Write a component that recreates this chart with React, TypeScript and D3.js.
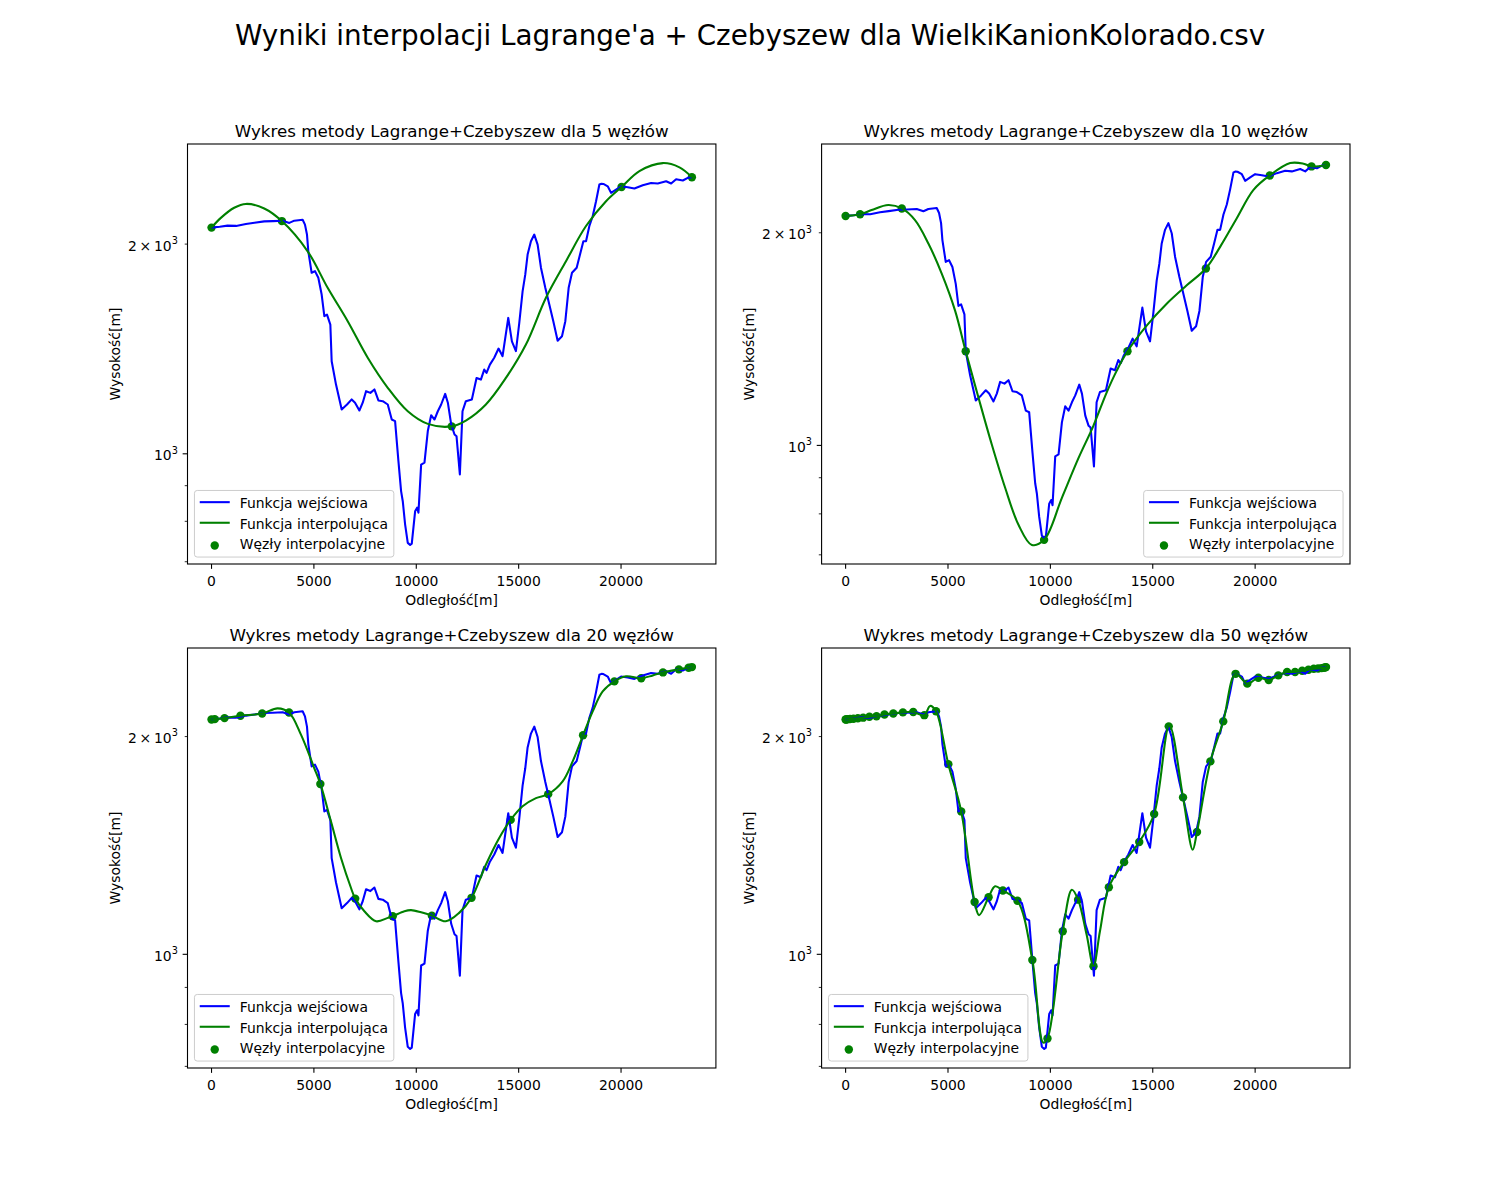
import React from "react";
import * as d3 from "d3";

// ————— dane: profil Wielkiego Kanionu (odległość [m], wysokość [m]) —————
const distance = [
  0, 400, 782, 1200, 1679, 2100, 2575, 3000, 3472, 3800, 4042, 4450, 4564, 4662,
  4727, 4890, 5053, 5216, 5379, 5510, 5640, 5803, 5868, 6080, 6357, 6618, 6846,
  7009, 7221, 7384, 7547, 7759, 7955, 8150, 8362, 8607, 8802, 8965, 9128, 9258,
  9340, 9454, 9584, 9700, 9780, 9943, 10041, 10106, 10237, 10400, 10563, 10726,
  10889, 11052, 11215, 11411, 11542, 11705, 11868, 11965, 12128, 12258, 12421,
  12714, 12943, 13155, 13318, 13432, 13595, 13807, 14018, 14214, 14492, 14670,
  14866, 15029, 15192, 15322, 15437, 15600, 15763, 15926, 16089, 16301, 16497,
  16692, 16904, 17116, 17279, 17442, 17605, 17833, 17996, 18160, 18290, 18453,
  18616, 18779, 18942, 19045, 19138, 19350, 19513, 19757, 20001, 20327, 20653,
  21060, 21468, 21794, 22201, 22446, 22690, 23016, 23261, 23460,
];
const elevation = [
  2112, 2118, 2126, 2124, 2138, 2146, 2156, 2158, 2161, 2145, 2161, 2168, 2133, 2064,
  1953, 1819, 1829, 1789, 1693, 1576, 1584, 1533, 1358, 1257, 1158, 1177, 1197,
  1184, 1154, 1184, 1230, 1223, 1237, 1193, 1190, 1177, 1120, 1114, 976, 884,
  855, 792, 745, 740, 743, 827, 837, 823, 965, 971, 1078, 1136,
  1120, 1151, 1177, 1219, 1184, 1102, 1066, 1060, 934, 1151, 1190,
  1197, 1285, 1278, 1321, 1307, 1343, 1374, 1416, 1381, 1567, 1450,
  1404, 1540, 1711, 1808, 1932, 2019, 2064, 1997, 1850, 1731, 1638,
  1550, 1453, 1475, 1550, 1731, 1819, 1850, 1932, 2019, 2019, 2123,
  2193, 2304, 2435, 2442, 2440, 2421, 2369, 2395, 2421, 2413, 2403,
  2429, 2448, 2443, 2462, 2443, 2478, 2468, 2490, 2495,
];

// ————— węzły Czebyszewa i punkty funkcji interpolującej —————
const nodes5 = [
  [0, 2112], [3435, 2158], [11730, 1095], [20025, 2415], [23460, 2495],
];
const curve5 = [
  [0, 2112], [456, 2181], [1108, 2255], [1679, 2284], [2575, 2250], [3435, 2158],
  [4695, 1953], [5672, 1731], [6651, 1550], [7629, 1374], [8607, 1244], [9584, 1151],
  [10563, 1104], [11730, 1095], [12421, 1116], [13399, 1177], [14377, 1285],
  [15355, 1435], [16333, 1675], [17311, 1890], [18290, 2123], [19267, 2304],
  [20025, 2415], [20898, 2546], [22039, 2614], [22853, 2577], [23460, 2495],
];

const nodes10 = [
  [0, 2112], [707, 2124], [2745, 2165], [5865, 1359], [9694, 735],
  [13766, 1359], [17595, 1780], [20715, 2411], [22753, 2483], [23460, 2495],
];
const curve10 = [
  [0, 2112], [707, 2124], [1271, 2154], [2086, 2189], [2745, 2165], [3390, 2084],
  [4042, 1931], [4694, 1751], [5346, 1552], [5865, 1359], [6487, 1169], [7139, 1003],
  [7791, 871], [8443, 772], [9095, 723], [9694, 735], [10563, 843], [11377, 960],
  [12095, 1065], [12747, 1188], [13236, 1275], [13766, 1359], [14703, 1478],
  [15681, 1587], [16659, 1685], [17595, 1780], [18290, 1910], [19104, 2097],
  [19919, 2300], [20715, 2411], [21712, 2510], [22365, 2505], [22753, 2483],
  [23460, 2495],
];

const nodes20 = [
  [0, 2112], [160, 2114], [636, 2121], [1413, 2137], [2474, 2152], [3785, 2159],
  [5315, 1720], [7018, 1194], [8850, 1129], [10761, 1131], [12699, 1197],
  [14610, 1534], [16442, 1665], [18145, 2008], [19675, 2384], [20986, 2408],
  [22047, 2453], [22824, 2477], [23300, 2490], [23460, 2495],
];
const curve20 = [
  [0, 2112], [160, 2114], [636, 2121], [1413, 2137], [2474, 2152], [3227, 2188],
  [3785, 2159], [4368, 2012], [5020, 1808], [5315, 1720], [5835, 1526], [6324, 1359],
  [6813, 1235], [7018, 1194], [7465, 1147], [8036, 1111], [8607, 1123], [8850, 1129],
  [9421, 1147], [9747, 1151], [10237, 1143], [10761, 1131], [11443, 1111],
  [12095, 1141], [12699, 1197], [13399, 1330], [14051, 1448], [14610, 1534],
  [15192, 1602], [15844, 1644], [16442, 1665], [17148, 1734], [17637, 1848],
  [18145, 2008], [18616, 2167], [19104, 2309], [19675, 2384], [20245, 2423],
  [20986, 2408], [21549, 2430], [22047, 2453], [22824, 2477], [23300, 2490],
  [23460, 2495],
];

const nodes50 = [
  [0, 2112], [24, 2112], [96, 2113], [216, 2115], [384, 2117], [598, 2120],
  [857, 2124], [1162, 2130], [1510, 2134], [1899, 2145], [2329, 2152], [2798, 2160],
  [3303, 2163], [3843, 2141], [4415, 2168], [5017, 1832], [5646, 1576], [6300, 1181],
  [6982, 1199], [7680, 1225], [8392, 1186], [9120, 982], [9859, 765], [10604, 1076],
  [11354, 1190], [12106, 963], [12856, 1238], [13601, 1341], [14340, 1430],
  [15068, 1563], [15780, 2066], [16478, 1648], [17160, 1476], [17814, 1848],
  [18443, 2099], [19045, 2442], [19617, 2367], [20157, 2412], [20662, 2394],
  [21131, 2430], [21561, 2456], [21950, 2456], [22298, 2466], [22603, 2474],
  [22863, 2482], [23076, 2484], [23244, 2487], [23364, 2490], [23436, 2493],
  [23460, 2495],
];
const curve50 = [
  [0, 2112], [24, 2112], [96, 2113], [216, 2115], [384, 2117], [598, 2120],
  [857, 2124], [1162, 2130], [1510, 2134], [1899, 2145], [2329, 2152], [2798, 2160],
  [3303, 2163], [3843, 2141], [4124, 2205], [4415, 2168], [5017, 1832], [5646, 1576],
  [6300, 1181], [6520, 1133], [6982, 1199], [7302, 1242], [7680, 1225], [8392, 1186],
  [9120, 982], [9650, 755], [9859, 765], [10604, 1076], [11052, 1228], [11354, 1190],
  [11769, 1065], [12106, 963], [12421, 1076], [12856, 1238], [13601, 1341],
  [14340, 1430], [15068, 1563], [15812, 2072], [16478, 1648], [16952, 1395],
  [17160, 1476], [17814, 1848], [18443, 2099], [19045, 2442], [19617, 2367],
  [20157, 2412], [20662, 2394], [21131, 2430], [21561, 2456], [21950, 2456],
  [22298, 2466], [22603, 2474], [22863, 2482], [23076, 2484], [23244, 2487],
  [23364, 2490], [23436, 2493], [23460, 2495],
];

// ————— osie —————
const yMinorTicks = [600, 700, 800, 900, 2000, 3000];
const yLabelledTicks = [1000, 2000];
const legendLabels = ["Funkcja wejściowa", "Funkcja interpolująca", "Węzły interpolacyjne"];

const panels = [
  { n: 5, nodes: nodes5, curve: curve5, legend: "left" },
  { n: 10, nodes: nodes10, curve: curve10, legend: "right" },
  { n: 20, nodes: nodes20, curve: curve20, legend: "left" },
  { n: 50, nodes: nodes50, curve: curve50, legend: "left" },
];

const FONT = "'DejaVu Sans', sans-serif";
const BLUE = "#0000ff";
const GREEN = "#008000";
const W = 528.41;
const H = 420;

function Panel({ cfg, x0, y0, idx }: any) {
  const blue = d3.zip(distance, elevation) as [number, number][];
  const pts = [...blue, ...cfg.curve, ...cfg.nodes] as [number, number][];
  const [xMin, xMax] = d3.extent(pts, (d) => d[0]) as [number, number];
  const [yMin, yMax] = d3.extent(pts, (d) => d[1]) as [number, number];
  const xPad = (xMax - xMin) * 0.05;
  const x = d3.scaleLinear().domain([xMin - xPad, xMax + xPad]).range([0, W]);
  const lo = Math.log10(yMin);
  const hi = Math.log10(yMax);
  const m = (hi - lo) * 0.05;
  const y = d3.scaleLog().domain([10 ** (lo - m), 10 ** (hi + m)]).range([H, 0]);
  const [d0, d1] = y.domain();

  const blueLine = d3
    .line<[number, number]>()
    .x((d) => x(d[0]))
    .y((d) => y(d[1]));
  const greenLine = d3
    .line<[number, number]>()
    .x((d) => x(d[0]))
    .y((d) => y(d[1]))
    .curve(d3.curveCatmullRom.alpha(0.5));

  const clipId = `clip-${idx}`;
  const ticksX = x.ticks(5);
  const majorY = [1000].filter((v) => v >= d0 && v <= d1);
  const minorY = yMinorTicks.filter((v) => v >= d0 && v <= d1);

  // legenda
  const lw = 199.4;
  const lh = 66.6;
  const lx = cfg.legend === "left" ? 6.94 : W - 6.94 - lw;
  const ly = H - 6.94 - lh;

  const fmtLabel = (v: number) => {
    const e = Math.floor(Math.log10(v) + 1e-9);
    const mant = Math.round(v / 10 ** e);
    return { base: mant === 1 ? "10" : `${mant}\u2009×\u200910`, exp: String(e) };
  };

  return (
    <g transform={`translate(${x0},${y0})`} fontFamily={FONT}>
      <defs>
        <clipPath id={clipId}>
          <rect x={0} y={0} width={W} height={H} />
        </clipPath>
      </defs>
      <g clipPath={`url(#${clipId})`}>
        {cfg.nodes.map((d: number[], i: number) => (
          <circle key={i} cx={x(d[0])} cy={y(d[1])} r={4.2} fill={GREEN} />
        ))}
        <path d={blueLine(blue) || ""} fill="none" stroke={BLUE} strokeWidth={2.08} strokeLinejoin="round" />
        <path d={greenLine(cfg.curve) || ""} fill="none" stroke={GREEN} strokeWidth={2.08} strokeLinejoin="round" />
      </g>
      <rect x={0} y={0} width={W} height={H} fill="none" stroke="#000" strokeWidth={1.1} />

      {/* oś X */}
      {ticksX.map((t) => (
        <g key={t} transform={`translate(${x(t)},${H})`}>
          <line y1={0} y2={4.86} stroke="#000" strokeWidth={1.1} />
          <text y={22.3} textAnchor="middle" fontSize={13.9}>
            {String(t)}
          </text>
        </g>
      ))}
      <text x={W / 2} y={H + 41} textAnchor="middle" fontSize={13.9}>
        Odległość[m]
      </text>

      {/* oś Y (logarytmiczna) */}
      {majorY.map((t) => (
        <line key={"M" + t} x1={-4.86} x2={0} y1={y(t)} y2={y(t)} stroke="#000" strokeWidth={1.1} />
      ))}
      {minorY.map((t) => (
        <line key={"m" + t} x1={-2.78} x2={0} y1={y(t)} y2={y(t)} stroke="#000" strokeWidth={0.83} />
      ))}
      {yLabelledTicks
        .filter((v) => v >= d0 && v <= d1)
        .map((t) => {
          const l = fmtLabel(t);
          return (
            <text key={"l" + t} x={-9.7} y={y(t) + 6.5} textAnchor="end" fontSize={13.9}>
              {l.base}
              <tspan dy={-6.6} fontSize={9.7}>
                {l.exp}
              </tspan>
            </text>
          );
        })}
      <text transform={`translate(${-68},${H / 2}) rotate(-90)`} textAnchor="middle" fontSize={13.9}>
        Wysokość[m]
      </text>

      <text x={W / 2} y={-7.5} textAnchor="middle" fontSize={16.7}>
        {`Wykres metody Lagrange+Czebyszew dla ${cfg.n} węzłów`}
      </text>

      {/* legenda */}
      <g transform={`translate(${lx},${ly})`}>
        <rect width={lw} height={lh} rx={2.8} fill="#fff" fillOpacity={0.8} stroke="#cccccc" strokeWidth={1} />
        <line x1={5.3} x2={35.3} y1={11.7} y2={11.7} stroke={BLUE} strokeWidth={2.08} />
        <line x1={5.3} x2={35.3} y1={32.3} y2={32.3} stroke={GREEN} strokeWidth={2.08} />
        <circle cx={20.3} cy={55} r={4.2} fill={GREEN} />
        {legendLabels.map((s, i) => (
          <text key={s} x={45.3} y={[17.3, 38.3, 58.3][i]} fontSize={13.9}>
            {s}
          </text>
        ))}
      </g>
    </g>
  );
}

export default function App() {
  const left = 187.5;
  const top = 144;
  const gapX = W * 0.2;
  const gapY = H * 0.2;
  return (
    <svg
      width={1500}
      height={1200}
      style={{ position: "absolute", left: 0, top: 0, background: "#fff" }}
    >
      <rect width={1500} height={1200} fill="#fff" />
      <text x={750} y={45} textAnchor="middle" fontSize={27.8} fontFamily={FONT}>
        Wyniki interpolacji Lagrange'a + Czebyszew dla WielkiKanionKolorado.csv
      </text>
      {panels.map((p, i) => (
        <Panel
          key={p.n}
          cfg={p}
          idx={i}
          x0={left + (i % 2) * (W + gapX)}
          y0={top + Math.floor(i / 2) * (H + gapY)}
        />
      ))}
    </svg>
  );
}
